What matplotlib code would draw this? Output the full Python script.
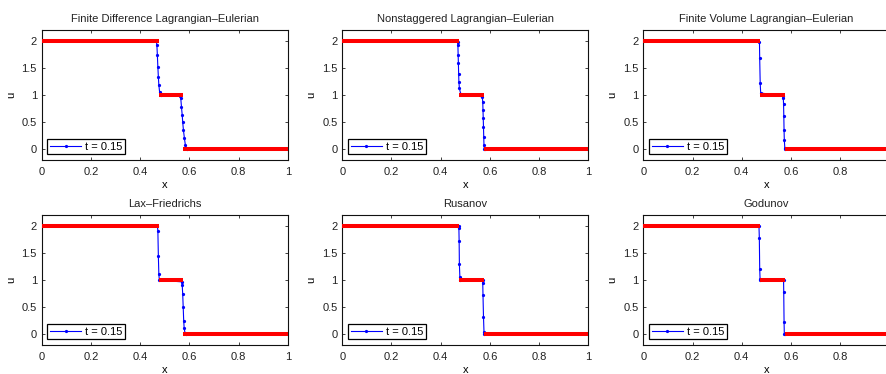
"""
Six-panel comparison of numerical schemes vs. exact solution (t = 0.15).
Saves out.png (886x374).
"""

import matplotlib
matplotlib.use("Agg")
import matplotlib.pyplot as plt

plt.rcParams["font.family"] = ["Liberation Sans", "DejaVu Sans"]

# ---------------------------------------------------------------- data
TITLES = [
    "Finite Difference Lagrangian\u2013Eulerian",
    "Nonstaggered Lagrangian\u2013Eulerian",
    "Finite Volume Lagrangian\u2013Eulerian",
    "Lax\u2013Friedrichs",
    "Rusanov",
    "Godunov",
]

# exact solution: piecewise constant states separated by two shocks
shock_x = [0.475, 0.575]
states = [2.0, 1.0, 0.0]

# numerical solutions (only the points near the shocks differ from the plateaus)
fd_x = [0.0, 0.466, 0.468, 0.470, 0.472, 0.474, 0.476, 0.479, 0.484,
        0.562, 0.565, 0.568, 0.571, 0.573, 0.576, 0.580, 0.584, 0.589, 1.0]
fd_u = [2.0, 2.00, 1.93, 1.74, 1.52, 1.34, 1.19, 1.06, 1.01,
        0.99, 0.95, 0.78, 0.63, 0.50, 0.35, 0.20, 0.07, 0.01, 0.0]

ns_x = [0.0, 0.469, 0.470, 0.471, 0.472, 0.473, 0.474, 0.476, 0.481,
        0.569, 0.571, 0.572, 0.573, 0.574, 0.575, 0.576, 0.577, 0.580, 1.0]
ns_u = [2.0, 1.99, 1.93, 1.74, 1.59, 1.40, 1.25, 1.13, 1.03,
        0.97, 0.88, 0.72, 0.57, 0.41, 0.23, 0.07, 0.01, 0.0, 0.0]

fv_x = [0.0, 0.472, 0.473, 0.475, 0.477,
        0.567, 0.569, 0.570, 0.571, 0.572, 0.573, 0.575, 0.577, 1.0]
fv_u = [2.0, 1.99, 1.68, 1.22, 1.04,
        0.99, 0.94, 0.83, 0.61, 0.35, 0.17, 0.03, 0.0, 0.0]

lf_x = [0.0, 0.470, 0.472, 0.474, 0.476, 0.478,
        0.569, 0.571, 0.573, 0.575, 0.577, 0.579, 0.582, 0.585, 1.0]
lf_u = [2.0, 2.00, 1.92, 1.45, 1.11, 1.00,
        0.97, 0.91, 0.74, 0.50, 0.25, 0.11, 0.03, 0.0, 0.0]

ru_x = [0.0, 0.473, 0.474, 0.475, 0.476, 0.478, 0.480,
        0.570, 0.571, 0.572, 0.574, 0.576, 0.577, 1.0]
ru_u = [2.0, 2.0, 1.96, 1.73, 1.30, 1.06, 1.0,
        1.0, 0.94, 0.72, 0.32, 0.05, 0.0, 0.0]

go_x = [0.0, 0.470, 0.4715, 0.473, 0.4745, 0.476,
        0.570, 0.5707, 0.572, 0.573, 0.575, 1.0]
go_u = [2.0, 2.0, 1.78, 1.21, 1.02, 1.0,
        1.0, 0.78, 0.23, 0.01, 0.0, 0.0]

NUMERIC = [(fd_x, fd_u), (ns_x, ns_u), (fv_x, fv_u),
           (lf_x, lf_u), (ru_x, ru_u), (go_x, go_u)]

X_TICKS = [0, 0.2, 0.4, 0.6, 0.8, 1]
X_TICKLABELS = ["0", "0.2", "0.4", "0.6", "0.8", "1"]
Y_TICKS = [0, 0.5, 1, 1.5, 2]
Y_TICKLABELS = ["0", "0.5", "1", "1.5", "2"]

# ---------------------------------------------------------------- layout
COL_LEFT = [0.0471, 0.3863, 0.7261]
ROW_BOTTOM = [0.5722, 0.0775]
AX_W, AX_H = 0.2777, 0.3465
FS = 8


def _draw_panel(ax, title, xs, us, last_col):
    ax.plot(xs, us, "-", color="#0000FF", linewidth=0.8, marker=".",
            markersize=2.6, label="t = 0.15", zorder=2)
    # exact solution, one flat segment per state
    edges = [0.0] + shock_x + [1.0]
    for k, s in enumerate(states):
        ax.plot([edges[k], edges[k + 1]], [s, s], "-", color="#FF0000",
                linewidth=2.9, solid_capstyle="butt", zorder=3)

    ax.set_xlim(0, 1)
    ax.set_ylim(-0.2, 2.2)
    ax.set_xticks(X_TICKS)
    # right-most column is cropped in the original, its "1" is not visible
    labels = X_TICKLABELS[:-1] + [""] if last_col else X_TICKLABELS
    ax.set_xticklabels(labels)
    ax.set_yticks(Y_TICKS)
    ax.set_yticklabels(Y_TICKLABELS)
    ax.tick_params(direction="in", length=2.5, width=0.6, labelsize=FS,
                   top=True, right=True, colors="#222222")
    ax.tick_params(axis="x", pad=5)
    ax.tick_params(axis="y", pad=3.5)
    for sp in ax.spines.values():
        sp.set_linewidth(0.8)
        sp.set_color("#111111")
    ax.set_xlabel("x", fontsize=FS, labelpad=2)
    ax.set_ylabel("u", fontsize=FS, labelpad=4)
    ax.set_title(title, fontsize=FS, pad=6, color="#222222")

    leg = ax.legend(loc="lower left", fontsize=FS, numpoints=1,
                    handlelength=2.8, handletextpad=0.35, borderpad=0.25,
                    borderaxespad=0.5, fancybox=False, framealpha=1)
    leg.get_frame().set_edgecolor("black")
    leg.get_frame().set_linewidth(0.9)


def main():
    fig = plt.figure(figsize=(8.86, 3.74), dpi=100)
    for i, (title, (xs, us)) in enumerate(zip(TITLES, NUMERIC)):
        r, c = divmod(i, 3)
        ax = fig.add_axes([COL_LEFT[c], ROW_BOTTOM[r], AX_W, AX_H])
        _draw_panel(ax, title, xs, us, last_col=(c == 2))
    fig.savefig("out.png", dpi=100)
    plt.close(fig)


if __name__ == "__main__":
    main()
